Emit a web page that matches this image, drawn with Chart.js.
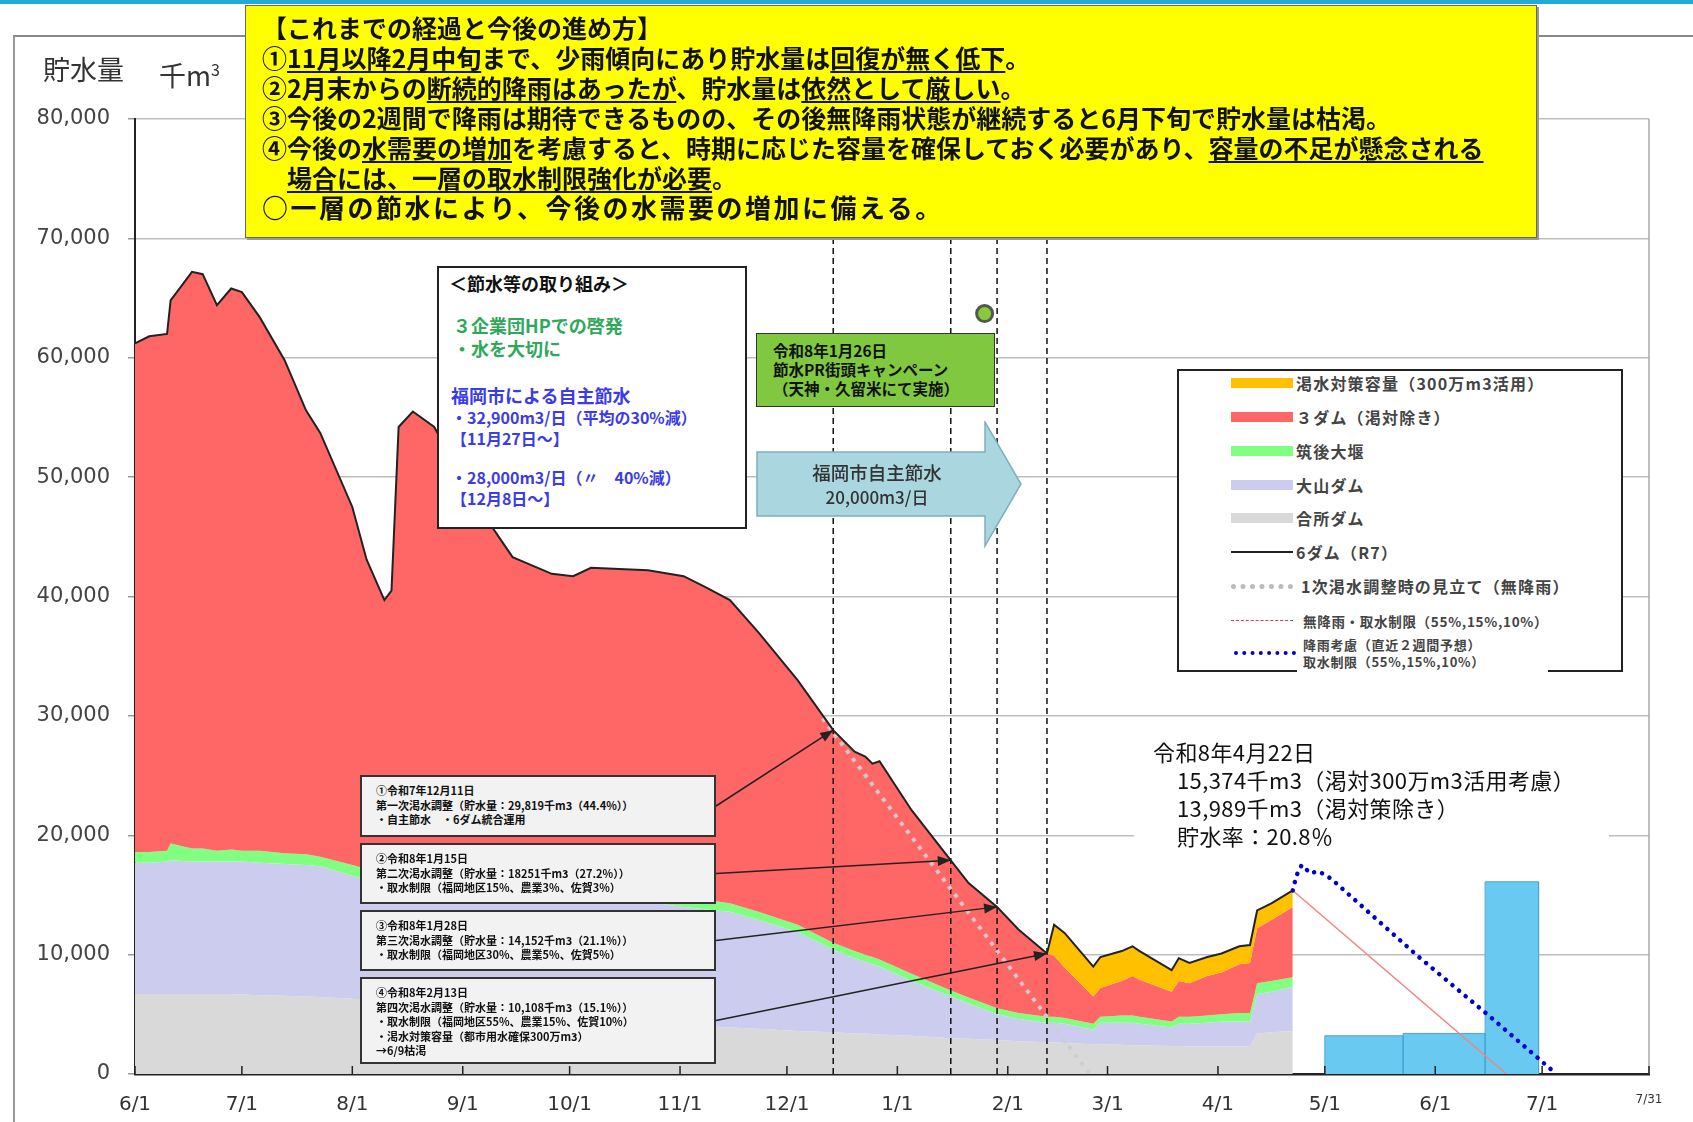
<!DOCTYPE html>
<html>
<head>
<meta charset="utf-8">
<title>貯水量の推移</title>
<script src="https://cdn.jsdelivr.net/npm/chart.js"></script>
<style>
  body { margin:0; width:1693px; height:1122px; position:relative; overflow:hidden; background:#fff;
         font-family:"Noto Sans CJK JP", "Noto Sans", sans-serif; color:#111; }
  .abs { position:absolute; white-space:nowrap; }
  #canvas { position:absolute; left:0; top:0; z-index:1; }
  .ov { z-index:2; }
  u { text-decoration-thickness:2px; text-underline-offset:3px; }
  .ev { background:#f2f2f2; border:2px solid #333; box-sizing:border-box; z-index:2; font-size:11px; font-weight:700; line-height:14.5px; padding:6px 0 0 14px; }
  .lg { position:absolute; left:117px; font-size:16px; font-weight:700; color:#444; letter-spacing:1.2px; line-height:22px; }
  .sw { position:absolute; left:52px; width:62px; }
</style>
</head>
<body>
<div class="abs" style="left:0;top:0;width:1693px;height:4px;background:#22aad6;z-index:3"></div>
<div class="abs" style="left:13px;top:35px;width:1690px;height:1100px;border-left:2px solid #999;border-top:2px solid #888;z-index:0"></div>

<canvas id="canvas" width="1693" height="1122"></canvas>

<!-- y axis title -->
<div class="abs ov" style="left:43px;top:51px;font-size:27px;color:#333;line-height:36px">貯水量</div>
<div class="abs ov" style="left:159px;top:51px;font-size:27px;color:#333;line-height:36px">千m<sup style="font-size:16px">3</sup></div>

<!-- yellow note -->
<div class="abs ov" style="left:245px;top:5px;width:1292px;height:233px;background:#ffff00;border:1.5px solid #666;box-shadow:2px 2px 0 #999;box-sizing:border-box;padding:6px 0 0 16px;font-size:25px;font-weight:700;line-height:30px">
  <div>【これまでの経過と今後の進め方】</div>
  <div>①<u>11月以降2月中旬</u>まで、少雨傾向にあり貯水量は<u>回復が無く低下</u>。</div>
  <div>②2月末からの<u>断続的降雨はあったが</u>、貯水量は<u>依然として厳しい</u>。</div>
  <div>③今後の2週間で降雨は期待できるものの、その後無降雨状態が継続すると6月下旬で貯水量は枯渇。</div>
  <div>④今後の<u>水需要の増加</u>を考慮すると、時期に応じた容量を確保しておく必要があり、<u>容量の不足が懸念される</u></div>
  <div style="padding-left:25px"><u>場合には、一層の取水制限強化が必要</u>。</div>
  <div style="font-size:26px;letter-spacing:2.5px">○一層の節水により、今後の水需要の増加に備える。</div>
</div>

<!-- saving measures box -->
<div class="abs ov" style="left:437px;top:266px;width:310px;height:263px;background:#fff;border:2px solid #222;box-sizing:border-box">
  <div class="abs" style="left:10px;top:3px;font-size:18px;font-weight:700;line-height:24px">＜節水等の取り組み＞</div>
  <div class="abs" style="left:14px;top:46px;font-size:18px;font-weight:700;line-height:23px;color:#2fa85a">３企業団HPでの啓発<br>・水を大切に</div>
  <div class="abs" style="left:12px;top:116px;font-size:18px;font-weight:700;line-height:22px;color:#3b3bea">福岡市による自主節水</div>
  <div class="abs" style="left:12px;top:139px;font-size:16px;font-weight:700;line-height:21px;color:#3b3bea">・32,900m3/日（平均の30%減）<br>【11月27日～】</div>
  <div class="abs" style="left:12px;top:199px;font-size:16px;font-weight:700;line-height:21px;color:#3b3bea">・28,000m3/日（〃　40%減）<br>【12月8日～】</div>
</div>

<!-- campaign box -->
<div class="abs ov" style="left:756px;top:333px;width:239px;height:74px;background:#80c840;border:1.5px solid #333;box-sizing:border-box;font-size:15.5px;font-weight:700;line-height:19px;padding:7px 0 0 16px">
  令和8年1月26日<br>節水PR街頭キャンペーン<br>（天神・久留米にて実施）
</div>

<!-- arrow shape -->
<svg class="abs ov" style="left:756px;top:421px" width="268" height="128">
  <path d="M1 31 L229 31 L229 1 L265 63 L229 125 L229 95 L1 95 Z" fill="#a9d6df" stroke="#7fb0bd" stroke-width="1.5"/>
  <text x="121" y="59" text-anchor="middle" font-size="18.5" font-weight="500" fill="#333" font-family="Noto Sans CJK JP">福岡市自主節水</text>
  <text x="121" y="83" text-anchor="middle" font-size="17" font-weight="500" fill="#333" font-family="Noto Sans CJK JP">20,000m3/日</text>
</svg>

<!-- legend -->
<div class="abs ov" style="left:1177px;top:369px;width:446px;height:303px;border:2px solid #222;border-bottom:none;background:#fff;box-sizing:border-box">
  <div class="sw" style="top:7px;height:10px;background:#ffc000"></div>
  <div class="lg" style="top:1px">渇水対策容量（300万m3活用）</div>
  <div class="sw" style="top:41px;height:10px;background:#ff6666"></div>
  <div class="lg" style="top:35px">３ダム（渇対除き）</div>
  <div class="sw" style="top:75px;height:10px;background:#80ff80"></div>
  <div class="lg" style="top:69px">筑後大堰</div>
  <div class="sw" style="top:109px;height:10px;background:#ccccee"></div>
  <div class="lg" style="top:103px">大山ダム</div>
  <div class="sw" style="top:142px;height:10px;background:#d9d9d9"></div>
  <div class="lg" style="top:136px">合所ダム</div>
  <div class="sw" style="top:180px;height:0;border-top:2px solid #222"></div>
  <div class="lg" style="top:170px">6ダム（R7）</div>
  <div class="sw" style="top:213px;height:0;border-top:5px dotted #bbb"></div>
  <div class="lg" style="top:204px;left:122px">1次渇水調整時の見立て（無降雨）</div>
  <div class="sw" style="top:249px;height:0;border-top:1.5px dashed #e03a3a"></div>
  <div class="lg" style="top:239px;left:124px;font-size:13.5px;letter-spacing:0.7px">無降雨・取水制限（55%,15%,10%）</div>
  <div class="sw" style="top:280px;left:55px;height:0;border-top:4px dotted #0000cc"></div>
  <div class="lg" style="top:265px;left:124px;font-size:13px;line-height:17px;letter-spacing:0.7px">降雨考慮（直近２週間予想）<br>取水制限（55%,15%,10%）</div>
</div>
<div class="abs ov" style="left:1177px;top:670px;width:120px;height:2px;background:#222"></div>
<div class="abs ov" style="left:1548px;top:670px;width:75px;height:2px;background:#222"></div>

<!-- event boxes -->
<div id="ev0" class="abs ev" style="left:360px;top:775px;width:356px;height:62px">①令和7年12月11日<br>第一次渇水調整（貯水量：29,819千m3（44.4%））<br>・自主節水　・6ダム統合運用</div>
<div id="ev1" class="abs ev" style="left:360px;top:843px;width:356px;height:61px">②令和8年1月15日<br>第二次渇水調整（貯水量：18251千m3（27.2%））<br>・取水制限（福岡地区15%、農業3%、佐賀3%）</div>
<div id="ev2" class="abs ev" style="left:360px;top:910px;width:356px;height:61px">③令和8年1月28日<br>第三次渇水調整（貯水量：14,152千m3（21.1%））<br>・取水制限（福岡地区30%、農業5%、佐賀5%）</div>
<div id="ev3" class="abs ev" style="left:360px;top:977px;width:356px;height:87px">④令和8年2月13日<br>第四次渇水調整（貯水量：10,108千m3（15.1%））<br>・取水制限（福岡地区55%、農業15%、佐賀10%）<br>・渇水対策容量（都市用水確保300万m3）<br>→6/9枯渇</div>

<!-- latest value note -->
<div class="abs ov" style="left:1134px;top:737px;width:475px;height:114px;background:#fff;padding-left:19px;box-sizing:border-box;font-size:22px;line-height:28px;color:#111;letter-spacing:0.4px">
  令和8年4月22日<br>
  <span style="padding-left:24px">15,374千m3（渇対300万m3活用考慮）</span><br>
  <span style="padding-left:24px">13,989千m3（渇対策除き）</span><br>
  <span style="padding-left:24px">貯水率：20.8％</span>
</div>

<script>
// days counted from 2025-06-01
var days = [0,4,9,10,16,19,23,27,30,35,
            42,48,52,61,65,70,72,74,78,84,
            91,95,106,117,123,128,144,154,160,167,
            175,186,196,202,205,207,209,218,229,234,
            242,248,256,258,261,269,271,277,280,282,
            291,293,296,301,305,310,313,315,319,325];

// upper edge of each band (千m3)
var grayTop = [6700,6700,6700,6700,6700,6700,6700,6700,6650,6600,
               6550,6500,6450,6300,6250,6150,6100,6100,6000,5900,
               5700,5600,5300,5000,4800,4700,4300,4100,4000,3900,
               3800,3600,3500,3400,3400,3350,3300,3200,3000,2950,
               2850,2750,2650,2650,2600,2500,2500,2450,2400,2400,
               2350,2350,2300,2300,2300,2300,2300,3400,3500,3600];
var lavTop = [17700,17700,17800,17900,17800,17800,17800,17800,17800,17700,
              17600,17500,17400,16600,16300,16100,16100,16100,16000,15900,
              15800,15700,15500,15200,15000,14900,14400,14000,13800,13600,
              12900,11900,10400,9700,9400,9200,9000,7800,6500,5900,
              5000,4600,4300,4300,4200,3700,4300,4300,4300,4200,
              3900,4200,4200,4300,4400,4400,4400,6700,6900,7300];
var greenTop = [18600,18600,18700,19300,18900,18900,18700,18800,18700,18700,
                18500,18400,18200,17500,17200,17000,17000,17000,16900,16800,
                16700,16600,16300,16000,15800,15700,15200,14800,14600,14300,
                13600,12500,11000,10300,10000,9800,9600,8400,7000,6400,
                5500,5100,4800,4800,4700,4200,4800,4900,4900,4800,
                4400,4800,4800,4900,5000,5100,5100,7600,7800,8100];
var redTop = [61200,61800,62000,64800,67200,67000,64400,65800,65500,63400,
              59800,55600,53700,47500,43100,39700,40500,54200,55500,54200,
              50300,48100,43300,41900,41700,42400,42200,41700,40800,39700,
              37000,33000,28800,27000,26600,26000,26200,22100,17900,16000,
              14000,12100,10100,9900,8900,6500,7200,7800,8200,7900,
              6900,7800,7600,8200,8500,9200,9300,12200,12900,13989];
var total = [61200,61800,62000,64800,67200,67000,64400,65800,65500,63400,
             59800,55600,53700,47500,43100,39700,40500,54200,55500,54200,
             50300,48100,43300,41900,41700,42400,42200,41700,40800,39700,
             37000,33000,28800,27000,26600,26000,26200,22100,17900,16000,
             14000,12100,10100,12500,11800,9000,9800,10300,10700,10300,
             8700,9700,9300,9800,10100,10700,10800,13700,14300,15374];

var tickDays = [0,30,61,92,122,153,183,214,245,273,304,334,365,395,425];
var tickLabels = ['6/1','7/1','8/1','9/1','10/1','11/1','12/1','1/1','2/1','3/1','4/1','5/1','6/1','7/1','7/31'];

// drought adjustment dates (dashed lines / arrows)
var eventDays = [196,229,242,256];
var lineTop = 70000;

// projections
var dryDays = [193,268];
var dryVals = [29800,0];
var limitDays = [325,385];
var limitVals = [15374,0];
var rainDays = [325,326,327.5,330,332,334,336,360,380,399];
var rainVals = [15374,16600,17500,16800,17000,16700,16300,9900,4900,0];

// rainfall bars
var barStart = [334,356,379];
var barEnd = [356,379,394];
var barVals = [3200,3400,16100];

var campaignDay = [238.5];
var campaignVal = [63700];

function pts(xs, ys) { return xs.map((x, i) => ({x: x, y: ys[i]})); }

function band(data, color, fill, order) {
  return { data: pts(days, data), backgroundColor: color, borderColor: 'rgba(0,0,0,0)', borderWidth: 0,
           pointRadius: 0, fill: fill, order: order, tension: 0 };
}

var datasets = [
  band(grayTop, '#d9d9d9', 'origin', 10),
  band(lavTop, '#ccccee', '-1', 9),
  band(greenTop, '#80ff80', '-1', 8),
  band(redTop, '#ff6666', '-1', 7),
  band(total, '#ffc000', '-1', 6),
  { data: pts(days, total), borderColor: '#222', borderWidth: 2, pointRadius: 0, fill: false, order: 1 },
  { data: pts(dryDays, dryVals), borderColor: 'rgba(205,205,205,0.95)', borderWidth: 4, borderDash: [4, 6],
    pointRadius: 0, fill: false, order: 2 },
  { data: pts(limitDays, limitVals), borderColor: '#f08484', borderWidth: 1.5, pointRadius: 0, fill: false, order: 2 },
  { data: pts(rainDays, rainVals), borderColor: '#0000cc', borderWidth: 4.5, borderDash: [0.1, 8.5], borderCapStyle: 'round',
    pointRadius: 0, fill: false, order: 1 },
  { data: pts(campaignDay, campaignVal), showLine: false, pointRadius: 8, pointBackgroundColor: '#8dc63f',
    pointBorderColor: '#4d5a4d', pointBorderWidth: 3, order: 0 }
];

barStart.forEach((s, i) => {
  datasets.push({ data: [{x: s, y: 0}, {x: s, y: barVals[i]}, {x: barEnd[i], y: barVals[i]}, {x: barEnd[i], y: 0}],
    backgroundColor: '#69c9f0', borderColor: '#4aa6d4', borderWidth: 1, pointRadius: 0, fill: 'origin', order: 5 });
});

eventDays.forEach(d => {
  datasets.push({ data: [{x: d, y: 0}, {x: d, y: lineTop}], borderColor: '#111', borderWidth: 1.5, borderDash: [6, 4],
    pointRadius: 0, fill: false, order: 3 });
});

var extras = {
  id: 'extras',
  afterDraw: (chart) => {
    var c = chart.ctx, a = chart.chartArea, xs = chart.scales.x, ys = chart.scales.y;
    c.save();
    c.strokeStyle = '#aaa';
    c.lineWidth = 1.5;
    c.beginPath(); c.moveTo(a.right, a.top); c.lineTo(a.right, a.bottom); c.stroke();

    // month ticks point up into the plot
    c.strokeStyle = '#222';
    tickDays.forEach(d => {
      var px = xs.getPixelForValue(d);
      c.beginPath(); c.moveTo(px, a.bottom); c.lineTo(px, a.bottom - 8); c.stroke();
    });

    // arrows from the event boxes to the curve
    c.fillStyle = '#222';
    eventDays.forEach((d, i) => {
      var box = document.getElementById('ev' + i);
      var x0 = box.offsetLeft + box.offsetWidth, y0 = box.offsetTop + box.offsetHeight / 2;
      var x1 = xs.getPixelForValue(d), y1 = ys.getPixelForValue(total[days.indexOf(d)]);
      var ang = Math.atan2(y1 - y0, x1 - x0);
      c.beginPath(); c.moveTo(x0, y0); c.lineTo(x1, y1); c.stroke();
      c.beginPath();
      c.moveTo(x1, y1);
      c.lineTo(x1 - 13 * Math.cos(ang) + 5 * Math.sin(ang), y1 - 13 * Math.sin(ang) - 5 * Math.cos(ang));
      c.lineTo(x1 - 13 * Math.cos(ang) - 5 * Math.sin(ang), y1 - 13 * Math.sin(ang) + 5 * Math.cos(ang));
      c.closePath(); c.fill();
    });
    c.restore();
  }
};

var ctx = document.getElementById('canvas').getContext('2d');
var chart = new Chart(ctx, {
  type: 'line',
  data: { datasets: datasets },
  plugins: [extras],
  options: {
    responsive: false,
    animation: false,
    events: [],
    layout: { padding: { top: 119, right: 44, left: 0, bottom: 0 } },
    plugins: { legend: { display: false }, tooltip: { enabled: false } },
    scales: {
      x: {
        type: 'linear', min: 0, max: 425, z: 1,
        afterBuildTicks: (s) => { s.ticks = tickDays.map(v => ({value: v})); },
        afterFit: (s) => { s.height = 48; },
        grid: { display: false, drawTicks: false },
        border: { display: true, color: '#222', width: 2.5 },
        ticks: {
          autoSkip: false, maxRotation: 0, padding: 19, color: '#333',
          font: (c) => (c.tick && c.tick.value === 425) ? {family: 'DejaVu Sans', size: 12} : {family: 'DejaVu Sans', size: 20},
          callback: (v) => tickLabels[tickDays.indexOf(v)]
        }
      },
      y: {
        min: 0, max: 80000, z: 1,
        afterFit: (s) => { s.width = 135; },
        grid: { color: 'rgba(110,110,110,0.45)', lineWidth: 1.5, tickLength: 7, tickColor: '#999' },
        border: { color: '#222', width: 2 },
        ticks: { stepSize: 10000, padding: 18, color: '#444', font: {family: 'DejaVu Sans', size: 21},
                 callback: (v) => v.toLocaleString('en-US') }
      }
    }
  }
});
</script>
</body>
</html>
